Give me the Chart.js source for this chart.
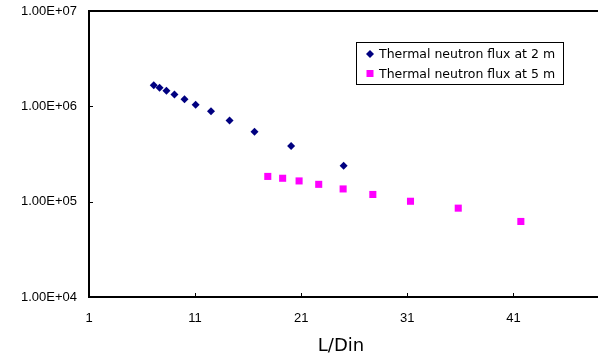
<!DOCTYPE html>
<html>
<head>
<meta charset="utf-8">
<script src="https://cdn.jsdelivr.net/npm/chart.js@4.4.0/dist/chart.umd.min.js"></script>
<style>
  html, body { margin: 0; padding: 0; background: #fff; }
  #wrap { width: 598px; height: 358px; }
</style>
</head>
<body>
<div id="wrap"><canvas id="flux"></canvas></div>
<script>
// L/Din values and measured thermal neutron flux
const ratio2m = [7.1, 7.65, 8.3, 9.05, 10.0, 11.05, 12.5, 14.25, 16.6, 20.05, 25.0];
const flux2m = [1.66e6, 1.57e6, 1.46e6, 1.33e6, 1.19e6, 1.04e6, 8.9e5, 7.1e5, 5.4e5, 3.83e5, 2.38e5];

const ratio5m = [17.85, 19.25, 20.8, 22.65, 24.95, 27.75, 31.3, 35.8, 41.7];
const flux5m = [1.84e5, 1.76e5, 1.65e5, 1.52e5, 1.36e5, 1.19e5, 1.01e5, 8.55e4, 6.2e4];

const xTicks = [1, 11, 21, 31, 41];
const yTicks = [1e4, 1e5, 1e6, 1e7];

const tickFont = '"Liberation Sans", Arial, sans-serif';
const textFont = '"DejaVu Sans", sans-serif';

function toPoints(xs, ys) {
  return xs.map((x, i) => ({ x: x, y: ys[i] }));
}

// 1.00E+06 style labels
function sciLabel(v) {
  const exp = Math.round(Math.log10(v));
  const mant = (v / Math.pow(10, exp)).toFixed(2);
  return mant + 'E+' + String(exp).padStart(2, '0');
}

// plot frame running out to the canvas edge, inner tick marks and the legend
const frame = {
  id: 'frame',
  afterDraw(chart) {
    const ctx = chart.ctx;
    const area = chart.chartArea;
    const xs = chart.scales.x;
    const ys = chart.scales.y;
    ctx.save();
    ctx.strokeStyle = '#000';
    ctx.lineWidth = 2;
    ctx.beginPath();
    ctx.moveTo(area.left - 1, area.top);
    ctx.lineTo(chart.width, area.top);
    ctx.moveTo(area.right - 1, Math.round(area.bottom));
    ctx.lineTo(chart.width, Math.round(area.bottom));
    ctx.stroke();

    ctx.lineWidth = 1;
    ctx.beginPath();
    xTicks.forEach(v => {
      const px = Math.round(xs.getPixelForValue(v)) + 0.5;
      ctx.moveTo(px, area.bottom);
      ctx.lineTo(px, area.bottom - 4);
    });
    yTicks.forEach(v => {
      const py = Math.round(ys.getPixelForValue(v)) + 0.5;
      ctx.moveTo(area.left, py);
      ctx.lineTo(area.left + 4, py);
    });
    ctx.stroke();

    // legend
    const lx = 356, ly = 42, lw = 207, lh = 42;
    ctx.fillStyle = '#fff';
    ctx.fillRect(lx, ly, lw, lh);
    ctx.strokeStyle = '#000';
    ctx.lineWidth = 1;
    ctx.strokeRect(lx + 0.5, ly + 0.5, lw, lh);
    ctx.font = '12.5px ' + textFont;
    ctx.textBaseline = 'middle';
    ctx.textAlign = 'left';
    chart.data.datasets.forEach((ds, i) => {
      const cy = ly + 12 + i * 19.5;
      const mx = lx + 14;
      ctx.fillStyle = ds.backgroundColor;
      ctx.beginPath();
      if (ds.pointStyle === 'rectRot') {
        ctx.moveTo(mx - 4, cy);
        ctx.lineTo(mx, cy - 4);
        ctx.lineTo(mx + 4, cy);
        ctx.lineTo(mx, cy + 4);
        ctx.closePath();
      } else {
        ctx.rect(mx - 3.5, cy - 3.5, 7, 7);
      }
      ctx.fill();
      ctx.fillStyle = '#000';
      ctx.fillText(ds.label, lx + 23, cy + 1);
    });
    ctx.restore();
  }
};

new Chart(document.getElementById('flux'), {
  type: 'scatter',
  data: {
    datasets: [
      {
        label: 'Thermal neutron flux at 2 m',
        data: toPoints(ratio2m, flux2m),
        pointStyle: 'rectRot',
        pointRadius: 4,
        pointHoverRadius: 4,
        backgroundColor: '#000080',
        borderColor: '#000080',
        borderWidth: 0
      },
      {
        label: 'Thermal neutron flux at 5 m',
        data: toPoints(ratio5m, flux5m),
        pointStyle: 'rect',
        pointRadius: 5,
        pointHoverRadius: 5,
        backgroundColor: '#ff00ff',
        borderColor: '#ff00ff',
        borderWidth: 0
      }
    ]
  },
  options: {
    responsive: true,
    maintainAspectRatio: false,
    animation: false,
    layout: { padding: { top: 11, right: 0, bottom: 0, left: 0 } },
    plugins: {
      legend: { display: false },
      tooltip: { enabled: false }
    },
    scales: {
      x: {
        type: 'linear',
        min: 1,
        max: 48.5,
        afterBuildTicks: scale => { scale.ticks = xTicks.map(v => ({ value: v })); },
        afterFit: scale => {
          scale.height = 61;
          scale.paddingLeft = 0;
          scale.paddingRight = 0;
        },
        border: { color: '#000', width: 2 },
        grid: { display: false, drawTicks: false },
        ticks: {
          color: '#000',
          padding: 14,
          maxRotation: 0,
          font: { family: tickFont, size: 13 }
        },
        title: {
          display: true,
          text: 'L/Din',
          color: '#000',
          padding: { top: 0, bottom: 1 },
          font: { family: textFont, size: 18 }
        }
      },
      y: {
        type: 'logarithmic',
        min: 1e4,
        max: 1e7,
        afterBuildTicks: scale => { scale.ticks = yTicks.map(v => ({ value: v })); },
        afterFit: scale => {
          scale.width = 89;
          scale.paddingTop = 0;
          scale.paddingBottom = 0;
        },
        border: { color: '#000', width: 2 },
        grid: { display: false, drawTicks: false },
        ticks: {
          color: '#000',
          padding: 12,
          font: { family: tickFont, size: 13 },
          callback: v => sciLabel(v)
        }
      }
    }
  },
  plugins: [frame]
});
</script>
</body>
</html>
